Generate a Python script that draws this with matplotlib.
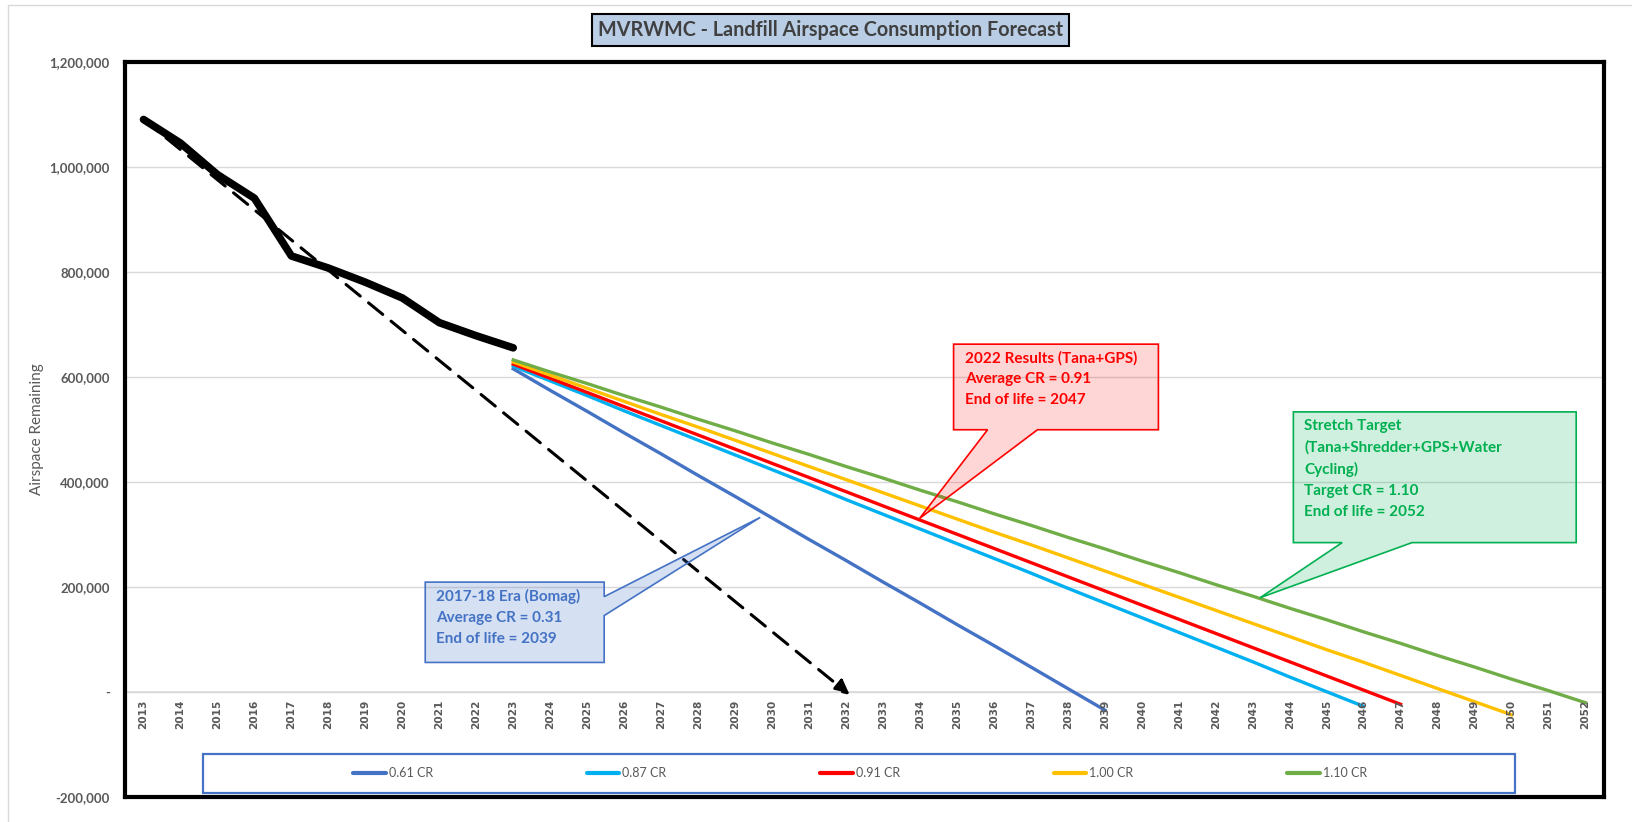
import matplotlib.pyplot as plt
from matplotlib.colors import to_rgba
from matplotlib.patches import Polygon, Rectangle
from matplotlib.ticker import FuncFormatter

plt.rcParams["font.family"] = ["Lato", "DejaVu Sans"]

years = list(range(2013, 2053))

# actual airspace remaining
hist_years = list(range(2013, 2024))
hist_values = [1090000, 1045000, 985000, 940000, 830000, 807000,
               780000, 750000, 703000, 678000, 655000]

# projections by compaction ratio, starting 2023
cr_labels = ["0.61 CR", "0.87 CR", "0.91 CR", "1.00 CR", "1.10 CR"]
cr_colors = ["#4472C4", "#00B0F0", "#FF0000", "#FFC000", "#70AD47"]
cr_061 = [615000, 574000, 534000, 493000, 453000, 412000, 372000, 331000,
          290000, 250000, 209000, 169000, 128000, 88000, 47000, 6000, -35000]
cr_087 = [620000, 592000, 564000, 535000, 507000, 479000, 451000, 423000,
          395000, 366000, 338000, 310000, 282000, 254000, 226000, 197000,
          169000, 141000, 113000, 85000, 57000, 28000, 0, -28000]
cr_091 = [624000, 597000, 570000, 543000, 516000, 489000, 462000, 435000,
          408000, 381000, 354000, 327000, 300000, 273000, 246000, 219000,
          192000, 165000, 138000, 111000, 84000, 57000, 30000, 3000, -24000]
cr_100 = [628000, 603000, 578000, 553000, 528000, 504000, 479000, 454000,
          429000, 404000, 379000, 354000, 329000, 304000, 280000, 255000,
          230000, 205000, 180000, 155000, 130000, 105000, 80000, 56000,
          31000, 6000, -19000, -44000]
cr_110 = [632000, 609000, 587000, 564000, 542000, 519000, 497000, 474000,
          452000, 429000, 407000, 384000, 362000, 339000, 317000, 294000,
          272000, 249000, 227000, 204000, 182000, 159000, 137000, 114000,
          92000, 69000, 47000, 24000, 2000, -21000]
cr_series = [cr_061, cr_087, cr_091, cr_100, cr_110]

# linear trend arrow of the historic consumption
trend_start = (2013, 1090000)
trend_end = (2032.1, -6000)

title = "MVRWMC - Landfill Airspace Consumption Forecast"
gray = "#595959"


def callout(ax, box, base, tip, side, text, color, alpha):
    x0, y0, x1, y1 = box
    if side == "bottom":
        pts = [(x0, y1), (x1, y1), (x1, y0), (base[1], y0), tip,
               (base[0], y0), (x0, y0)]
    else:
        pts = [(x0, y1), (x1, y1), (x1, base[0]), tip, (x1, base[1]),
               (x1, y0), (x0, y0)]
    ax.add_patch(Polygon(pts, closed=True, fc=to_rgba(color, alpha),
                         ec=color, lw=1.2, zorder=6))
    ax.annotate(text, xy=(x0, y1), xytext=(8, -5), textcoords="offset points",
                ha="left", va="top", fontsize=11, fontweight="bold",
                color=color, linespacing=1.62, zorder=7)


fig = plt.figure(figsize=(16.32, 8.22), dpi=100)
ax = fig.add_axes([0.0766, 0.0308, 0.9062, 0.8941])

ax.plot(hist_years, hist_values, color="black", lw=5.5,
        solid_capstyle="round", solid_joinstyle="round", zorder=4)

for label, color, vals in zip(cr_labels, cr_colors, cr_series):
    ax.plot(years[10:10 + len(vals)], vals, color=color, lw=2.4,
            label=label, zorder=3)

ax.annotate("", xy=trend_end, xytext=trend_start,
            arrowprops=dict(arrowstyle="-|>", color="black", lw=2.2,
                            linestyle=(0, (6, 3.5)), mutation_scale=22,
                            shrinkA=0, shrinkB=0), zorder=4)

callout(ax, (2020.62, 55700, 2025.46, 208700), (181000, 145000),
        (2029.68, 332000), "right",
        "2017-18 Era (Bomag)\nAverage CR = 0.31\nEnd of life = 2039",
        "#4472C4", 0.22)
callout(ax, (2034.91, 499000, 2040.45, 662000), (2035.83, 2037.18),
        (2033.99, 330000), "bottom",
        "2022 Results (Tana+GPS)\nAverage CR = 0.91\nEnd of life = 2047",
        "#FF0000", 0.16)
callout(ax, (2044.10, 284000, 2051.75, 533000), (2045.42, 2047.31),
        (2043.20, 179000), "bottom",
        "Stretch Target\n(Tana+Shredder+GPS+Water\nCycling)\n"
        "Target CR = 1.10\nEnd of life = 2052",
        "#00B050", 0.19)

ax.set_xlim(2012.5, 2052.5)
ax.set_ylim(-200000, 1200000)
ax.set_yticks(range(-200000, 1200001, 200000))
ax.yaxis.set_major_formatter(
    FuncFormatter(lambda v, p: "-" if v == 0 else f"{v:,.0f}"))
ax.tick_params(axis="y", length=0, pad=11, labelsize=9.5, labelcolor=gray)
for t in ax.get_yticklabels():
    t.set_fontweight("bold")
ax.set_xticks([])
ax.yaxis.grid(True, color="#D9D9D9", lw=1)
ax.set_axisbelow(True)
ax.axhline(0, color="#D9D9D9", lw=1.2, zorder=1)

for yr in years:
    ax.annotate(str(yr), xy=(yr, 0), xytext=(0, -6),
                textcoords="offset points", ha="center", va="top",
                rotation=90, fontsize=7.6, fontweight="bold", color=gray,
                family="DejaVu Sans")

ax.set_ylabel("Airspace Remaining", fontsize=11, color=gray)
ax.yaxis.set_label_coords(-0.055, 0.5)

for sp in ax.spines.values():
    sp.set_linewidth(3)
    sp.set_color("black")

ax.add_patch(Rectangle((0.0527, 0.0054), 0.8871, 0.0527,
                       transform=ax.transAxes, fill=False, ec="#4472C4",
                       lw=1.6, zorder=5))
leg = ax.legend(ncol=5, loc="center", bbox_to_anchor=(0.497, 0.0317),
                frameon=False, fontsize=9, handlelength=2.6,
                handletextpad=0.25, columnspacing=12.3)
for t in leg.get_texts():
    t.set_color(gray)
for h in leg.get_lines():
    h.set_linewidth(3)
    h.set_solid_capstyle("round")

fig.text(0.509, 0.9639, title, ha="center", va="center", fontsize=14.2,
         fontweight="bold", color="#404040",
         bbox=dict(boxstyle="square,pad=0.3", fc="#B9CDE5", ec="black",
                   lw=1.5))

fig.patches.append(Rectangle((8 / 1632, -0.01), 1.0, 1 - 5 / 822 + 0.01,
                             transform=fig.transFigure, fill=False,
                             ec="#D9D9D9", lw=1))

fig.savefig("out.png", dpi=100)
